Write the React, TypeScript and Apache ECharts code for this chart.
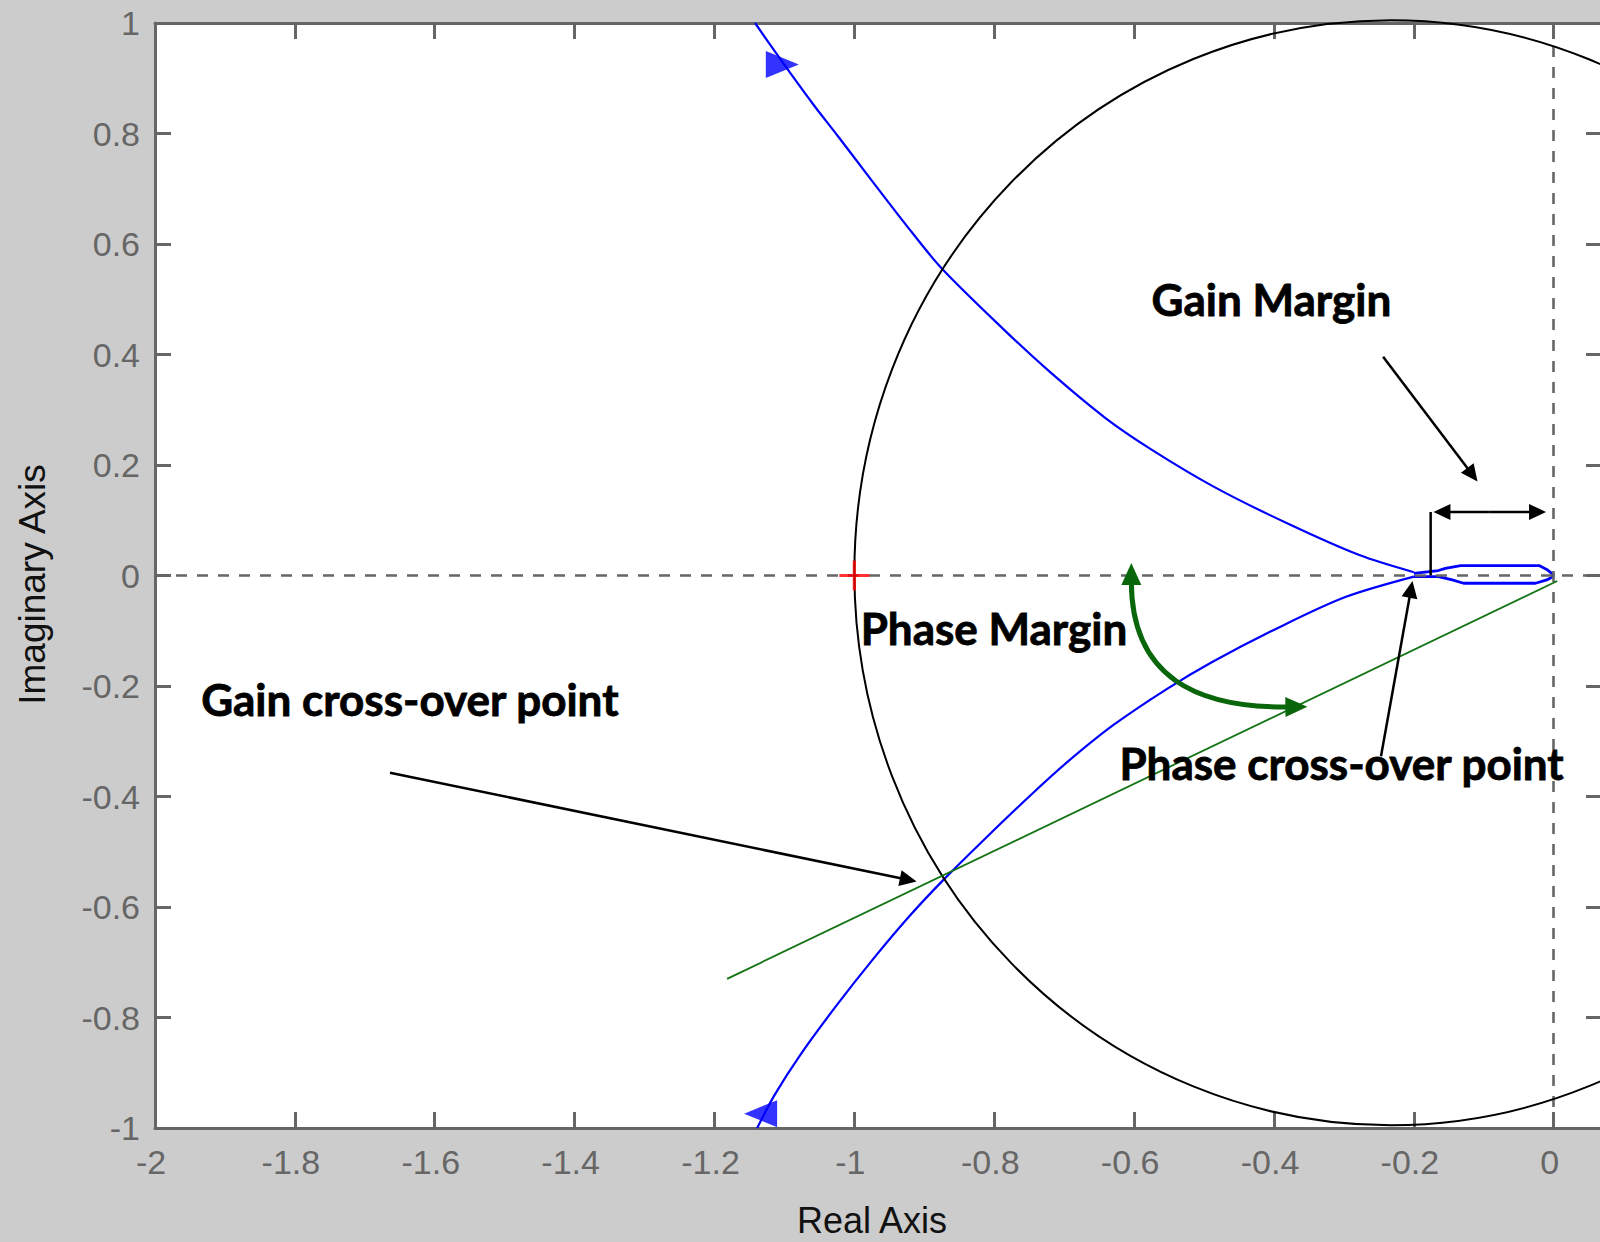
import React, { useEffect, useRef } from "react";
import * as echarts from "echarts";

// ---- axes ----
const X_MIN = -2;
const X_MAX = 0.069;
const Y_MIN = -1;
const Y_MAX = 1;
const TICK_STEP = 0.2;
const X_AXIS_NAME = "Real Axis";
const Y_AXIS_NAME = "Imaginary Axis";

// ---- Nyquist curve ----
const upperBranch: number[][] = [
  [-1.142, 1.0], [-1.12, 0.96], [-1.092, 0.91], [-1.059, 0.853], [-1.024, 0.796],
  [-0.977, 0.718], [-0.927, 0.636], [-0.876, 0.557], [-0.787, 0.446], [-0.72, 0.368],
  [-0.641, 0.285], [-0.574, 0.227], [-0.485, 0.16], [-0.382, 0.095], [-0.278, 0.037],
  [-0.2, 0.006],
];
const loopUpper: number[][] = [
  [-0.2, 0.004], [-0.165, 0.009], [-0.155, 0.013], [-0.133, 0.018], [-0.021, 0.018],
  [-0.01, 0.011], [-0.003, 0.004], [0, 0],
];
const loopLower: number[][] = [
  [0, 0], [-0.004, -0.004], [-0.01, -0.008], [-0.026, -0.014], [-0.129, -0.014],
  [-0.145, -0.008], [-0.165, -0.002], [-0.2, -0.002],
];
const lowerBranch: number[][] = [
  [-0.2, -0.002], [-0.298, -0.039], [-0.393, -0.094], [-0.489, -0.157],
  [-0.554, -0.206], [-0.63, -0.271], [-0.694, -0.336], [-0.745, -0.394], [-0.808, -0.47],
  [-0.872, -0.55], [-0.923, -0.619], [-0.975, -0.697], [-1.026, -0.779], [-1.077, -0.867],
  [-1.114, -0.94], [-1.139, -1.0],
];
// direction markers on the curve: [x, y, rotation]
const curveArrows: number[][] = [
  [-1.103, 0.925, -90],
  [-1.134, -0.974, 90],
];
const criticalPoint: number[][] = [[-1, 0]];

// ---- annotations (data coordinates) ----
const unitCircleCenter = [-0.233, 0.005];
const unitCircleRadii = [0.767, 1.0];
const phaseLine = [[-1.182, -0.73], [0.005, -0.01]];
const gainMarginPointer = [[-0.244, 0.396], [-0.109, 0.17]];
const gainMarginSpan = [[-0.172, 0.115], [-0.011, 0.115]];
const gainMarginStem = [[-0.176, 0.115], [-0.176, 0.0]];
const phaseCrossPointer = [[-0.247, -0.327], [-0.202, -0.01]];
const gainCrossPointer = [[-1.664, -0.357], [-0.911, -0.554]];
const phaseMarginArc = [[-0.604, -0.01], [-0.604, -0.185], [-0.51, -0.24], [-0.378, -0.238]];
const labelTexts = ["Gain Margin", "Phase Margin", "Gain cross-over point", "Phase cross-over point"];
const labelAnchors = [[-0.575, 0.501], [-0.991, -0.095], [-1.934, -0.224], [-0.621, -0.339]];

const AXIS_GRAY = "#666666";
const fmt = (v: number) => String(Math.round(v * 10) / 10);

function arrowHead(tip: number[], from: number[], len: number, w: number, color: string) {
  const dx = tip[0] - from[0];
  const dy = tip[1] - from[1];
  const L = Math.hypot(dx, dy) || 1;
  const ux = dx / L, uy = dy / L;
  const bx = tip[0] - ux * len, by = tip[1] - uy * len;
  const px = -uy, py = ux;
  return {
    type: "polygon",
    shape: { points: [tip, [bx + (px * w) / 2, by + (py * w) / 2], [bx - (px * w) / 2, by - (py * w) / 2]] },
    style: { fill: color },
  };
}

function arrowLine(a: number[], b: number[], color: string, width: number, len: number, hw: number) {
  const dx = b[0] - a[0], dy = b[1] - a[1];
  const L = Math.hypot(dx, dy) || 1;
  const end = [b[0] - (dx / L) * (len - 2), b[1] - (dy / L) * (len - 2)];
  return [
    { type: "line", shape: { x1: a[0], y1: a[1], x2: end[0], y2: end[1] }, style: { stroke: color, lineWidth: width } },
    arrowHead(b, a, len, hw, color),
  ];
}

export default function App() {
  const ref = useRef<HTMLDivElement>(null);
  useEffect(() => {
    if (!ref.current) return;
    const chart = echarts.init(ref.current, null, { renderer: "svg" });

    const renderAnnotations = (_params: any, api: any) => {
      const P = (p: number[]) => api.coord(p) as number[];
      const children: any[] = [];
      // circle
      const c = P(unitCircleCenter);
      const rxp = P([unitCircleCenter[0] + unitCircleRadii[0], unitCircleCenter[1]])[0] - c[0];
      const ryp = c[1] - P([unitCircleCenter[0], unitCircleCenter[1] + unitCircleRadii[1]])[1];
      children.push({
        type: "path",
        shape: {
          pathData: `M ${c[0] - rxp} ${c[1]} A ${rxp} ${ryp} 0 1 0 ${c[0] + rxp} ${c[1]} A ${rxp} ${ryp} 0 1 0 ${c[0] - rxp} ${c[1]} Z`,
        },
        style: { fill: "none", stroke: "#000000", lineWidth: 2 },
      });
      // green straight line
      const g1 = P(phaseLine[0]), g2 = P(phaseLine[1]);
      children.push({ type: "line", shape: { x1: g1[0], y1: g1[1], x2: g2[0], y2: g2[1] }, style: { stroke: "#137313", lineWidth: 1.8 } });
      // green arc
      const s = P(phaseMarginArc[0]), c1 = P(phaseMarginArc[1]), c2 = P(phaseMarginArc[2]), e = P(phaseMarginArc[3]);
      children.push({
        type: "bezierCurve",
        shape: { x1: s[0], y1: s[1], cpx1: c1[0], cpy1: c1[1], cpx2: c2[0], cpy2: c2[1], x2: e[0], y2: e[1] },
        style: { fill: "none", stroke: "#0a660a", lineWidth: 5 },
      });
      const hl = 22;
      const sdir = [s[0] - c1[0], s[1] - c1[1]];
      const sl = Math.hypot(sdir[0], sdir[1]);
      const stip = [s[0] + (sdir[0] / sl) * (hl - 4), s[1] + (sdir[1] / sl) * (hl - 4)];
      children.push(arrowHead(stip, c1, hl, 20, "#0a660a"));
      const edir = [e[0] - c2[0], e[1] - c2[1]];
      const el = Math.hypot(edir[0], edir[1]);
      const etip = [e[0] + (edir[0] / el) * (hl - 4), e[1] + (edir[1] / el) * (hl - 4)];
      children.push(arrowHead(etip, c2, hl, 20, "#0a660a"));
      // black pointers
      const blk = "#000000";
      children.push(...arrowLine(P(gainMarginPointer[0]), P(gainMarginPointer[1]), blk, 2.5, 17, 16));
      children.push(...arrowLine(P(phaseCrossPointer[0]), P(phaseCrossPointer[1]), blk, 2.5, 17, 16));
      children.push(...arrowLine(P(gainCrossPointer[0]), P(gainCrossPointer[1]), blk, 2.5, 17, 16));
      const sa = P(gainMarginSpan[0]), sb = P(gainMarginSpan[1]);
      const mid = [(sa[0] + sb[0]) / 2, (sa[1] + sb[1]) / 2];
      children.push(...arrowLine(mid, sb, blk, 2.5, 17, 16));
      children.push(...arrowLine(mid, sa, blk, 2.5, 17, 16));
      const st1 = P(gainMarginStem[0]), st2 = P(gainMarginStem[1]);
      children.push({ type: "line", shape: { x1: st1[0], y1: st1[1], x2: st2[0], y2: st2[1] }, style: { stroke: blk, lineWidth: 2.5 } });
      // texts
      labelTexts.forEach((t, i) => {
        const p = P(labelAnchors[i]);
        children.push({
          type: "text",
          x: p[0],
          y: p[1],
          style: {
            text: t,
            fill: "#000000",
            stroke: "#000000",
            lineWidth: 0.8,
            font: "bold 44px Lato",
            align: "left",
            verticalAlign: "middle",
          },
        });
      });
      return { type: "group", children };
    };

    const baseX = {
      type: "value",
      min: X_MIN,
      max: X_MAX,
      interval: TICK_STEP,
      splitLine: { show: false },
    };
    const baseY = {
      type: "value",
      min: Y_MIN,
      max: Y_MAX,
      interval: TICK_STEP,
      splitLine: { show: false },
    };
    const labelStyle = {
      color: AXIS_GRAY,
      fontSize: 34,
      fontFamily: "Liberation Sans",
      formatter: fmt,
    };
    const blueLine = { color: "#0000ff", width: 2.2 };

    chart.setOption({
      animation: false,
      backgroundColor: "#cccccc",
      grid: {
        left: 155,
        top: 23,
        width: 1447,
        height: 1105,
        show: true,
        backgroundColor: "#ffffff",
        borderWidth: 0,
        containLabel: false,
        outerBoundsMode: "none",
      },
      xAxis: [
        {
          ...baseX,
          position: "bottom",
          name: X_AXIS_NAME,
          nameLocation: "middle",
          nameGap: 74,
          nameTextStyle: { color: "#111111", fontSize: 36, fontFamily: "Liberation Sans", padding: [0, 13, 0, 0] },
          axisLine: { onZero: false, lineStyle: { color: AXIS_GRAY, width: 3 } },
          axisTick: { inside: true, length: 16, lineStyle: { color: AXIS_GRAY, width: 3 } },
          axisLabel: { ...labelStyle, margin: 17, showMaxLabel: false, padding: [0, 8, 0, 0] },
        },
        {
          ...baseX,
          position: "top",
          axisLine: { onZero: false, lineStyle: { color: AXIS_GRAY, width: 3 } },
          axisTick: { inside: true, length: 16, lineStyle: { color: AXIS_GRAY, width: 3 } },
          axisLabel: { show: false },
        },
      ],
      yAxis: [
        {
          ...baseY,
          position: "left",
          name: Y_AXIS_NAME,
          nameLocation: "middle",
          nameGap: 104,
          nameTextStyle: { color: "#111111", fontSize: 37, fontFamily: "Liberation Sans", padding: [0, 18, 0, 0] },
          axisLine: { onZero: false, lineStyle: { color: AXIS_GRAY, width: 3 } },
          axisTick: { inside: true, length: 16, lineStyle: { color: AXIS_GRAY, width: 3 } },
          axisLabel: { ...labelStyle, margin: 15 },
        },
        {
          ...baseY,
          position: "right",
          axisLine: { show: false, onZero: false },
          axisTick: { inside: true, length: 16, lineStyle: { color: AXIS_GRAY, width: 3 } },
          axisLabel: { show: false },
        },
      ],
      series: [
        {
          type: "line",
          data: upperBranch,
          showSymbol: false,
          symbol: "none",
          smooth: 0.3,
          lineStyle: blueLine,
          silent: true,
          z: 3,
          markLine: {
            silent: true,
            symbol: ["none", "none"],
            label: { show: false },
            lineStyle: { color: AXIS_GRAY, width: 2.6, type: [11, 10] },
            data: [{ yAxis: 0 }, { xAxis: 0 }],
          },
        },
        {
          type: "line",
          data: [...loopUpper, ...loopLower],
          showSymbol: false,
          symbol: "none",
          lineStyle: { color: "#0000ff", width: 2.8 },
          silent: true,
          z: 3,
        },
        {
          type: "line",
          data: lowerBranch,
          showSymbol: false,
          symbol: "none",
          smooth: 0.3,
          lineStyle: blueLine,
          silent: true,
          z: 3,
        },
        {
          type: "scatter",
          data: curveArrows.map((a) => ({ value: [a[0], a[1]], symbolRotate: a[2] })),
          symbol: "triangle",
          symbolSize: [27, 33],
          itemStyle: { color: "#0000ff" },
          silent: true,
          z: 4,
        },
        {
          type: "custom",
          data: [[0, 0]],
          clip: false,
          silent: true,
          z: 10,
          renderItem: renderAnnotations,
        },
        {
          type: "scatter",
          data: criticalPoint,
          symbol: "path://M0,13.4H30V16.6H0ZM13.4,0H16.6V30H13.4Z",
          symbolSize: 30,
          itemStyle: { color: "#ff0000" },
          silent: true,
          z: 12,
        },
      ],
    });

    return () => chart.dispose();
  }, []);

  return (
    <div
      ref={ref}
      style={{ position: "absolute", left: 0, top: 0, width: 1600, height: 1242 }}
    />
  );
}
